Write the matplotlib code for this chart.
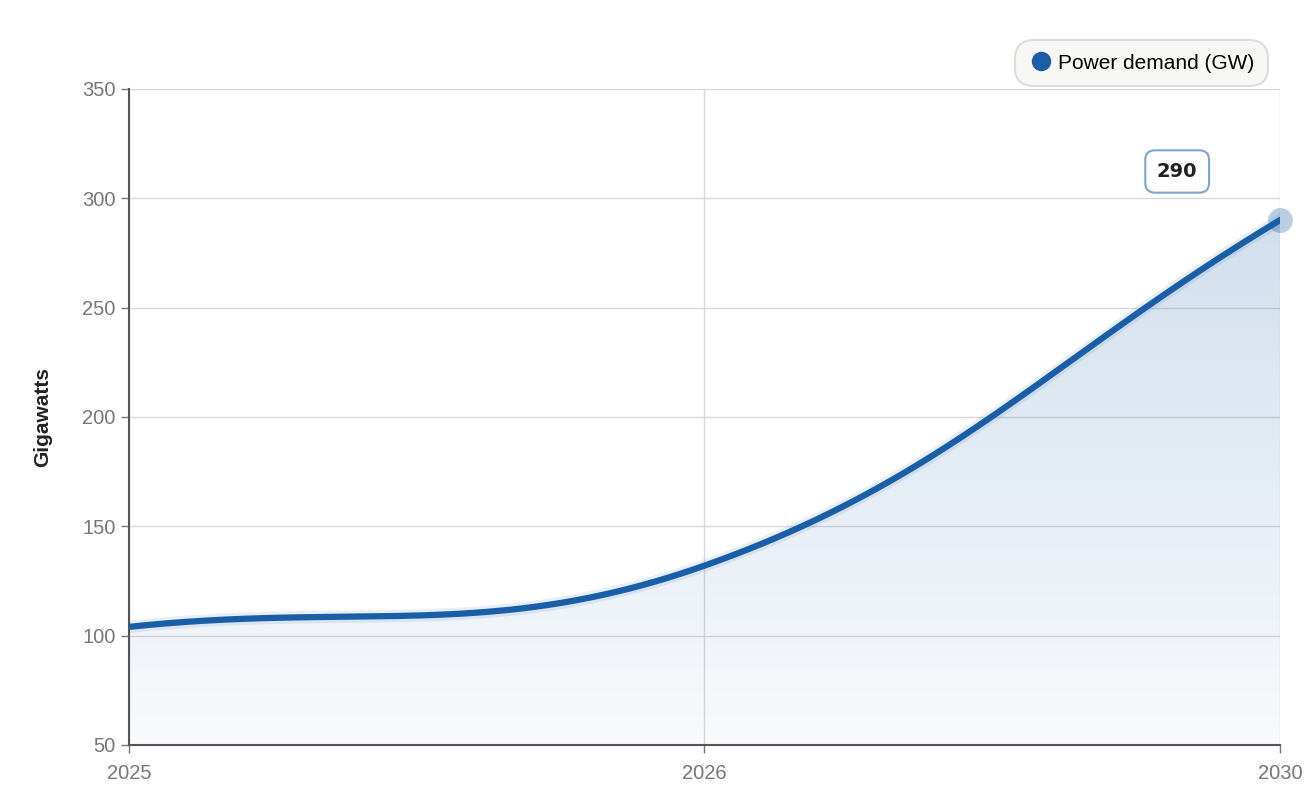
import numpy as np
import matplotlib
matplotlib.use("Agg")
import matplotlib.pyplot as plt
from matplotlib.lines import Line2D

plt.rcParams['font.family'] = ['Liberation Sans', 'DejaVu Sans']

years = ["2025", "2026", "2030"]
demand = [104, 132, 290]
series_name = "Power demand (GW)"
y_label = "Gigawatts"
yticks = [50, 100, 150, 200, 250, 300, 350]

def tension_spline(px, py, t=0.4, n=200):
    # Chart.js-style bezier smoothing in pixel space
    P = np.column_stack([px, py]).astype(float)
    N = len(P)
    cps = []
    for i in range(N):
        prev = P[max(i-1, 0)]; cur = P[i]; nxt = P[min(i+1, N-1)]
        d01 = np.hypot(*(cur-prev)); d12 = np.hypot(*(nxt-cur))
        s01 = d01/(d01+d12) if d01+d12 else 0
        s12 = d12/(d01+d12) if d01+d12 else 0
        cps.append((cur - t*s01*(nxt-prev), cur + t*s12*(nxt-prev)))
    out = []
    u = np.linspace(0, 1, n)[:, None]
    for i in range(N-1):
        p0 = P[i]; p1 = cps[i][1]; p2 = cps[i+1][0]; p3 = P[i+1]
        out.append((1-u)**3*p0 + 3*(1-u)**2*u*p1 + 3*(1-u)*u**2*p2 + u**3*p3)
    return np.vstack(out)

fig = plt.figure(figsize=(13.16, 8.08), dpi=100)
ax = fig.add_axes([0.098, 0.078, 0.8746, 0.812])
x = np.arange(len(years))
color = "#1a5ea8"
ax.set_xlim(0, len(years) - 1)
ax.set_ylim(50, 350)

# pixel scales of the axes (approx) for smoothing
sx = 1151/ (len(years)-1); sy = 656/300
pts = tension_spline(x*sx, np.array(demand)*sy)
cx, cy = pts[:, 0]/sx, pts[:, 1]/sy

grad = np.linspace(0, 1, 256).reshape(-1, 1)
cmap = matplotlib.colors.LinearSegmentedColormap.from_list(
    "g", [(0.1, 0.37, 0.66, 0.03), (0.1, 0.37, 0.66, 0.2)])
im = ax.imshow(grad, cmap=cmap, extent=[0, len(years)-1, 50, max(demand)],
               origin="lower", aspect="auto", zorder=1)
poly = ax.fill_between(cx, 50, cy, color="none")
im.set_clip_path(poly.get_paths()[0], transform=ax.transData)

ax.plot(cx, cy, color=color, lw=4.5, zorder=3, solid_capstyle="round")
ax.plot(cx, cy, color=color, lw=9, alpha=0.1, zorder=2)
ax.scatter([x[-1]], [demand[-1]], s=320, color=color, alpha=0.3, zorder=4,
           clip_on=False, linewidths=0)

ax.set_xticks(x)
ax.set_xticklabels(years)
ax.set_yticks(yticks)
ax.grid(True, color="#d9d9d9", lw=1)
ax.set_axisbelow(True)
for s in ["top", "right"]:
    ax.spines[s].set_visible(False)
for s in ["left", "bottom"]:
    ax.spines[s].set_color("#555555")
    ax.spines[s].set_linewidth(1.5)
ax.tick_params(colors="#777777", labelsize=14.5, length=6, width=1)
ax.tick_params(axis="x", pad=8)
ax.set_ylabel(y_label, fontsize=15, fontweight="bold", color="#222222", labelpad=22)

ax.annotate(str(demand[-1]), xy=(x[-1], demand[-1]), xytext=(-74, 35),
            textcoords="offset points", fontsize=14, fontweight="bold", color="#222222",
            ha="center", va="center", family="DejaVu Sans",
            bbox=dict(boxstyle="round,pad=0.6,rounding_size=0.5", fc="white", ec="#7fa3cf", lw=1.5))

leg = fig.legend(handles=[Line2D([], [], marker="o", ls="", color=color, markersize=13)],
                 labels=[series_name], loc="upper right", bbox_to_anchor=(0.968, 0.958),
                 fontsize=15, frameon=True, fancybox=True, handletextpad=0.2,
                 borderpad=0.45, handlelength=1.2)
leg.get_frame().set_facecolor("#f5f5f3")
leg.get_frame().set_edgecolor("#d5d5d5")
leg.get_frame().set_linewidth(1.5)
leg.get_frame().set_boxstyle("round,pad=0.2,rounding_size=0.9")

fig.savefig("out.png", dpi=100)
